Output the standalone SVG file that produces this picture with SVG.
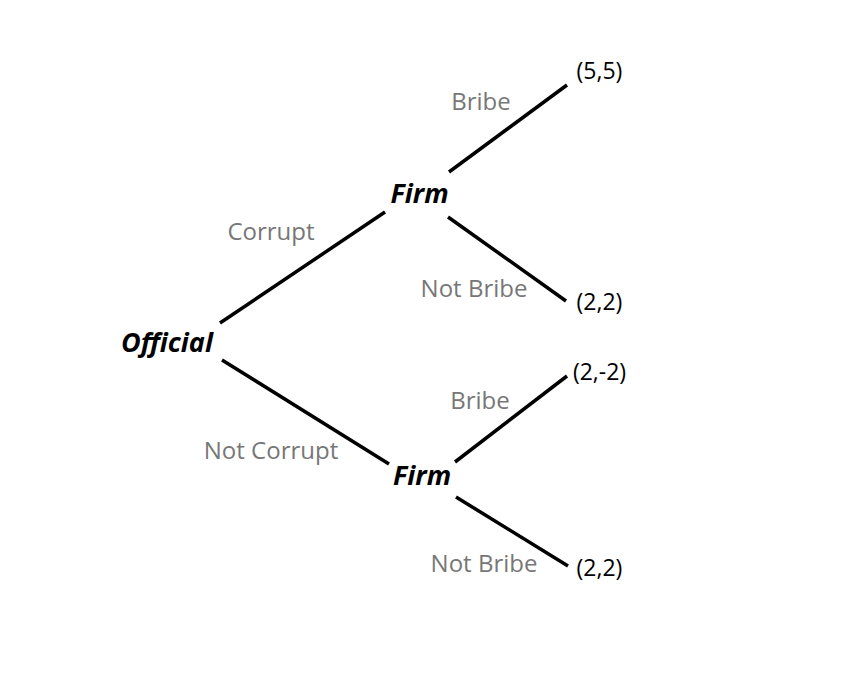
<svg xmlns="http://www.w3.org/2000/svg" width="845" height="684" viewBox="0 0 845 684">
<style>
.lbl{font-family:"Open Sans","Liberation Sans",sans-serif;font-size:24px;fill:#777;text-anchor:middle}
.node{font-family:"Open Sans","Liberation Sans",sans-serif;font-size:27px;font-weight:bold;font-style:italic;fill:#000;text-anchor:middle}
.pay{font-family:"Open Sans","Liberation Sans",sans-serif;font-size:23px;fill:#000;text-anchor:middle}
.edge{stroke:#000;stroke-width:3.5;fill:none}
</style>
<rect width="845" height="684" fill="#fff"/>
<g id="connectors">
<line class="edge" x1="220" y1="323" x2="385" y2="212"/>
<line class="edge" x1="222" y1="360" x2="389" y2="464"/>
<line class="edge" x1="449" y1="172" x2="567" y2="85"/>
<line class="edge" x1="448" y1="217" x2="566" y2="301"/>
<line class="edge" x1="455" y1="462" x2="567" y2="376"/>
<line class="edge" x1="456" y1="497" x2="568" y2="566"/>
<text class="lbl" x="271" y="240">Corrupt</text>
<text class="lbl" x="271" y="459">Not Corrupt</text>
<text class="lbl" x="481" y="110">Bribe</text>
<text class="lbl" x="474" y="297">Not Bribe</text>
<text class="lbl" x="480" y="409">Bribe</text>
<text class="lbl" x="484" y="572">Not Bribe</text>
</g>
<g id="official"><text class="node" x="167" y="352">Official</text></g>
<g id="firm1"><text class="node" x="419.5" y="203">Firm</text></g>
<g id="firm2"><text class="node" x="422" y="485">Firm</text></g>
<g id="payoff1"><text class="pay" x="599.5" y="79">(5,5)</text></g>
<g id="payoff2"><text class="pay" x="599.5" y="310">(2,2)</text></g>
<g id="payoff3"><text class="pay" x="599.5" y="380">(2,-2)</text></g>
<g id="payoff4"><text class="pay" x="599.5" y="576">(2,2)</text></g>
</svg>
